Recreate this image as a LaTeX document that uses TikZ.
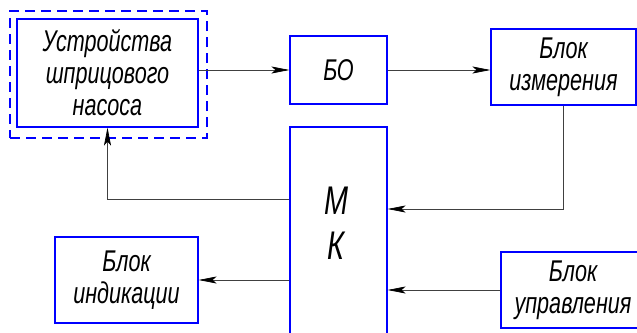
\documentclass[tikz,border=0pt]{standalone}
\usepackage{fontspec}
\setmainfont{Liberation Sans}[FakeStretch=0.72]
\usetikzlibrary{arrows.meta,positioning}

\begin{document}
\begin{tikzpicture}[
  x=1pt, y=-1pt,
  font=\itshape\fontsize{30}{32}\selectfont,
  block/.style={rectangle, draw=blue, line width=1.2pt, align=center, inner sep=0pt},
  link/.style={-{Stealth[length=18pt, width=7pt, inset=4pt, black]}, draw=black!75, line width=0.7pt}]

\useasboundingbox (0,0) rectangle (637,332);
\clip (0,0) rectangle (637,332);

% blocks
\node[block, minimum width=197pt, minimum height=127pt, dashed, dash pattern=on 10pt off 6pt] (pumpframe) at (108.5,74.5) {};
\node[block, minimum width=181pt, minimum height=108pt] (pump) at (107.5,73) {Устройства\\шприцового\\насоса};
\node[block, minimum width=97pt, minimum height=68pt] (bo) at (338.5,70) {БО};
\node[block, minimum width=145pt, minimum height=76pt] (izm) at (563.5,67) {Блок\\измерения};
\node[block, minimum width=97pt, minimum height=213pt] (mk) at (338.5,233.5) {};
\node[block, minimum width=144pt, minimum height=76pt] (upr) at (573,290) {Блок\\управления};
\node[block, minimum width=143pt, minimum height=86pt] (ind) at (126.5,280) {Блок\\индикации};

\node[font=\itshape\fontsize{40}{45}\selectfont, align=center] (mklabel) at (336,223) {М\\К};

% links
\draw[link] (pump.east |- bo) -- (bo.west);
\draw[link] (bo.east) -- (izm.west |- bo);
\draw[link] (izm.south) |- (mk.east |- 0,209);
\draw[link] (upr.west) -- (mk.east |- upr.west);
\draw[link] (mk.west |- ind) -- (ind.east);
\draw[link] (mk.west |- 0,199) -| (pump.south);

\end{tikzpicture}
\end{document}
